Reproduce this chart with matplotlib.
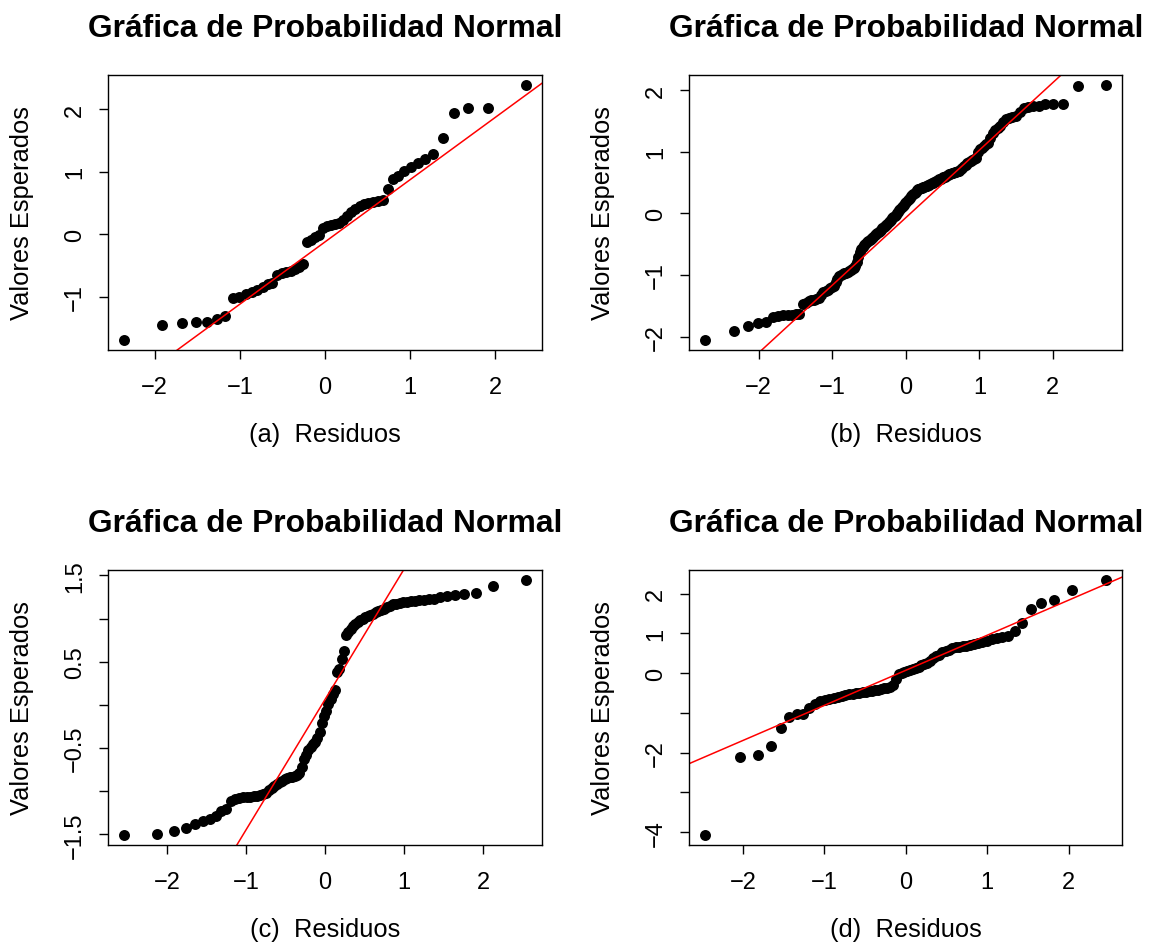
from statistics import NormalDist

import numpy as np
import matplotlib
matplotlib.use("Agg")
import matplotlib.pyplot as plt

plt.rcParams['font.family'] = ['Liberation Sans', 'DejaVu Sans']

# sorted residuals
res_a = [-1.688, -1.448, -1.427, -1.411, -1.400, -1.358, -1.305, -1.028, -1.006, -0.964,
         -0.932, -0.900, -0.852, -0.799, -0.783, -0.655, -0.623, -0.602, -0.586, -0.559,
         -0.517, -0.479, -0.133, -0.091, -0.053, -0.016, 0.091, 0.133, 0.154, 0.160,
         0.176, 0.229, 0.293, 0.357, 0.410, 0.453, 0.479, 0.500, 0.522, 0.535,
         0.553, 0.719, 0.889, 0.932, 1.012, 1.081, 1.145, 1.209, 1.278, 1.539,
         1.944, 2.018, 2.018, 2.386]

res_b = [-2.051, -1.916, -1.824, -1.775, -1.770, -1.683, -1.662, -1.656, -1.651, -1.646,
         -1.635, -1.629, -1.472, -1.451, -1.429, -1.413, -1.402, -1.386, -1.369, -1.326,
         -1.283, -1.261, -1.240, -1.218, -1.196, -1.175, -1.121, -1.066, -1.018, -1.001,
         -0.991, -0.974, -0.964, -0.947, -0.931, -0.920, -0.910, -0.893, -0.850, -0.796,
         -0.715, -0.623, -0.579, -0.547, -0.514, -0.493, -0.471, -0.449, -0.433, -0.417,
         -0.401, -0.379, -0.357, -0.341, -0.325, -0.303, -0.287, -0.265, -0.244, -0.227,
         -0.206, -0.189, -0.168, -0.146, -0.125, -0.103, -0.081, -0.060, -0.038, -0.022,
         0.005, 0.027, 0.049, 0.076, 0.097, 0.119, 0.141, 0.162, 0.189, 0.211,
         0.233, 0.254, 0.276, 0.298, 0.309, 0.330, 0.352, 0.373, 0.390, 0.401,
         0.406, 0.417, 0.422, 0.433, 0.438, 0.449, 0.460, 0.466, 0.476, 0.487,
         0.498, 0.509, 0.520, 0.530, 0.541, 0.552, 0.563, 0.574, 0.585, 0.595,
         0.612, 0.622, 0.633, 0.644, 0.650, 0.660, 0.666, 0.677, 0.682, 0.687,
         0.715, 0.742, 0.769, 0.790, 0.812, 0.828, 0.844, 0.866, 0.882, 0.904,
         0.991, 1.039, 1.066, 1.093, 1.121, 1.148, 1.229, 1.310, 1.348, 1.391,
         1.424, 1.478, 1.526, 1.548, 1.570, 1.586, 1.651, 1.705, 1.721, 1.738,
         1.748, 1.770, 1.775, 1.781, 2.068, 2.084]

res_c = [-1.506, -1.498, -1.467, -1.429, -1.382, -1.347, -1.328, -1.293, -1.235, -1.208,
         -1.119, -1.092, -1.076, -1.068, -1.065, -1.065, -1.061, -1.053, -1.041, -1.034,
         -1.018, -0.991, -0.964, -0.937, -0.914, -0.898, -0.879, -0.863, -0.852, -0.840,
         -0.832, -0.825, -0.817, -0.794, -0.724, -0.627, -0.577, -0.523, -0.484, -0.453,
         -0.426, -0.383, -0.317, -0.213, -0.135, -0.066, 0.012, 0.070, 0.120, 0.166,
         0.379, 0.414, 0.534, 0.623, 0.809, 0.844, 0.883, 0.917, 0.941, 0.964,
         0.987, 0.999, 1.014, 1.026, 1.041, 1.057, 1.072, 1.084, 1.099, 1.111,
         1.130, 1.150, 1.165, 1.173, 1.181, 1.188, 1.196, 1.200, 1.204, 1.212,
         1.215, 1.223, 1.231, 1.246, 1.262, 1.274, 1.281, 1.301, 1.378, 1.448]

res_d = [-4.067, -2.109, -2.067, -1.832, -1.378, -1.101, -1.025, -1.017, -0.874, -0.773,
         -0.714, -0.672, -0.647, -0.622, -0.597, -0.571, -0.555, -0.538, -0.521, -0.504,
         -0.496, -0.479, -0.471, -0.454, -0.445, -0.437, -0.420, -0.403, -0.387, -0.370,
         -0.345, -0.303, -0.143, -0.034, 0.000, 0.034, 0.059, 0.084, 0.109, 0.134,
         0.160, 0.193, 0.227, 0.261, 0.294, 0.370, 0.420, 0.462, 0.521, 0.555,
         0.588, 0.622, 0.647, 0.664, 0.672, 0.689, 0.706, 0.731, 0.756, 0.782,
         0.807, 0.857, 0.882, 0.908, 0.941, 1.067, 1.252, 1.605, 1.773, 1.840,
         2.092, 2.345]

captions = ["(a)  Residuos", "(b)  Residuos", "(c)  Residuos", "(d)  Residuos"]
title = "Gráfica de Probabilidad Normal"
ylabel = "Valores Esperados"

xticks = [-2, -1, 0, 1, 2]
xtick_labels = ["\u22122", "\u22121", "0", "1", "2"]
yticks_a = [-1, 0, 1, 2]
ytick_labels_a = ["\u22121", "0", "1", "2"]
yticks_b = [-2, -1, 0, 1, 2]
ytick_labels_b = ["\u22122", "\u22121", "0", "1", "2"]
yticks_c = [-1.5, -1.0, -0.5, 0.0, 0.5, 1.0, 1.5]
ytick_labels_c = ["\u22121.5", "", "\u22120.5", "", "0.5", "", "1.5"]
yticks_d = [-4, -3, -2, -1, 0, 1, 2]
ytick_labels_d = ["\u22124", "", "\u22122", "", "0", "1", "2"]


def qq_panel(ax, sample, caption, yticks, ytick_labels):
    y = np.sort(np.asarray(sample, dtype=float))
    n = len(y)
    nd = NormalDist()
    x = np.array([nd.inv_cdf((i + 0.5) / n) for i in range(n)])

    ax.plot(x, y, 'o', color='black', markersize=7.9, markeredgewidth=0)

    # reference line through the quartiles (like R's qqline)
    y1, y3 = np.percentile(y, [25, 75])
    x1, x3 = nd.inv_cdf(0.25), nd.inv_cdf(0.75)
    slope = (y3 - y1) / (x3 - x1)
    ax.axline((x1, y1), slope=slope, color='red', lw=1.1)

    xr = x.max() - x.min()
    yr = y.max() - y.min()
    ax.set_xlim(x.min() - 0.04 * xr, x.max() + 0.04 * xr)
    ax.set_ylim(y.min() - 0.04 * yr, y.max() + 0.04 * yr)

    ax.set_xticks(xticks)
    ax.set_xticklabels(xtick_labels)
    ax.set_yticks(yticks)
    ax.set_yticklabels(ytick_labels, rotation=90, va='center')
    ax.tick_params(axis='x', length=6.5, width=1, pad=12, labelsize=17)
    ax.tick_params(axis='y', length=6.5, width=1, pad=9.5, labelsize=17)
    for sp in ax.spines.values():
        sp.set_linewidth(1)

    ax.set_title(title, fontsize=22.9, fontweight='bold', pad=27.6)
    ax.set_xlabel(caption, fontsize=18.4)
    ax.set_ylabel(ylabel, fontsize=18.4)
    ax.xaxis.set_label_coords(0.5, -0.26)
    ax.yaxis.set_label_coords(-0.172, 0.5)


fig = plt.figure(figsize=(11.5, 9.45), dpi=100)
ax_a = fig.add_axes([0.0942, 0.6286, 0.3769, 0.2913])
ax_b = fig.add_axes([0.5994, 0.6286, 0.3765, 0.2913])
ax_c = fig.add_axes([0.0942, 0.1048, 0.3769, 0.2913])
ax_d = fig.add_axes([0.5994, 0.1048, 0.3765, 0.2913])

qq_panel(ax_a, res_a, captions[0], yticks_a, ytick_labels_a)
qq_panel(ax_b, res_b, captions[1], yticks_b, ytick_labels_b)
qq_panel(ax_c, res_c, captions[2], yticks_c, ytick_labels_c)
qq_panel(ax_d, res_d, captions[3], yticks_d, ytick_labels_d)

fig.savefig("out.png", dpi=100)
